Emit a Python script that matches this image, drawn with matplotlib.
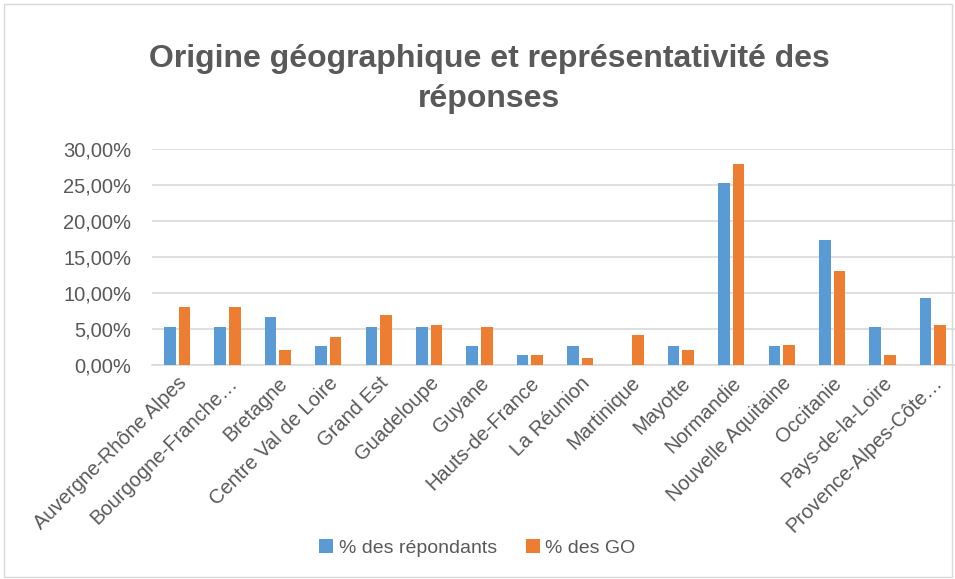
import matplotlib
matplotlib.use("Agg")
import matplotlib.pyplot as plt
import numpy as np
from matplotlib.patches import Rectangle
from matplotlib.ticker import FuncFormatter

# Data
regions = [
    "Auvergne-Rhône Alpes", "Bourgogne-Franche…", "Bretagne", "Centre Val de Loire",
    "Grand Est", "Guadeloupe", "Guyane", "Hauts-de-France", "La Réunion",
    "Martinique", "Mayotte", "Normandie", "Nouvelle Aquitaine", "Occitanie",
    "Pays-de-la-Loire", "Provence-Alpes-Côte…",
]
pct_repondants = [5.33, 5.33, 6.67, 2.67, 5.33, 5.33, 2.67, 1.33, 2.67, 0.0,
                  2.67, 25.33, 2.67, 17.33, 5.33, 9.33]
pct_go = [8.10, 8.10, 2.08, 3.84, 6.99, 5.60, 5.28, 1.34, 0.97, 4.21,
          2.08, 27.96, 2.78, 13.06, 1.34, 5.60]
series_names = ["% des répondants", "% des GO"]

grey = "#595959"
blue = "#5B9BD5"
orange = "#ED7D31"

plt.rcParams["font.family"] = ["Liberation Sans", "DejaVu Sans"]

fig = plt.figure(figsize=(9.55, 5.79), dpi=100)
ax = fig.add_axes([152 / 955, 1 - 365 / 579, 806 / 955, 216 / 579])

x = np.arange(len(regions))
w = 0.23
gap = 0.06
ax.bar(x - (w + gap) / 2, pct_repondants, w, color=blue, label=series_names[0], zorder=3)
ax.bar(x + (w + gap) / 2, pct_go, w, color=orange, label=series_names[1], zorder=3)

ax.set_xlim(-0.5, len(regions) - 0.5)
ax.set_ylim(0, 30)
ax.set_yticks(np.arange(0, 31, 5))
ax.yaxis.set_major_formatter(FuncFormatter(lambda v, p: f"{v:.2f}%".replace(".", ",")))
ax.grid(axis="y", color="#D9D9D9", linewidth=1.2, zorder=0)
for s in ["top", "right", "left"]:
    ax.spines[s].set_visible(False)
ax.spines["bottom"].set_color("#D9D9D9")
ax.spines["bottom"].set_linewidth(1.2)
ax.tick_params(axis="both", length=0, colors=grey, labelsize=14.5)
ax.tick_params(axis="y", pad=15)
ax.tick_params(axis="x", pad=6)
ax.set_xticks(x)
ax.set_xticklabels(regions, rotation=45, ha="right", rotation_mode="anchor", color=grey)

fig.text(0.512, 1 - 79 / 579, "Origine géographique et représentativité des\nréponses",
         ha="center", va="center", fontsize=23, fontweight="bold", color=grey,
         linespacing=1.45)

fig.legend(loc="center", bbox_to_anchor=(0.5, 1 - 548 / 579), ncol=2, frameon=False,
           fontsize=14, labelcolor=grey, handlelength=0.7, handleheight=0.7,
           handletextpad=0.3, columnspacing=1.5)

fig.patches.append(Rectangle((4 / 955, 2 / 579), 948 / 955, 573 / 579, transform=fig.transFigure,
                             fill=False, edgecolor="#D9D9D9", linewidth=1))

fig.savefig("out.png", dpi=100, facecolor="white")
